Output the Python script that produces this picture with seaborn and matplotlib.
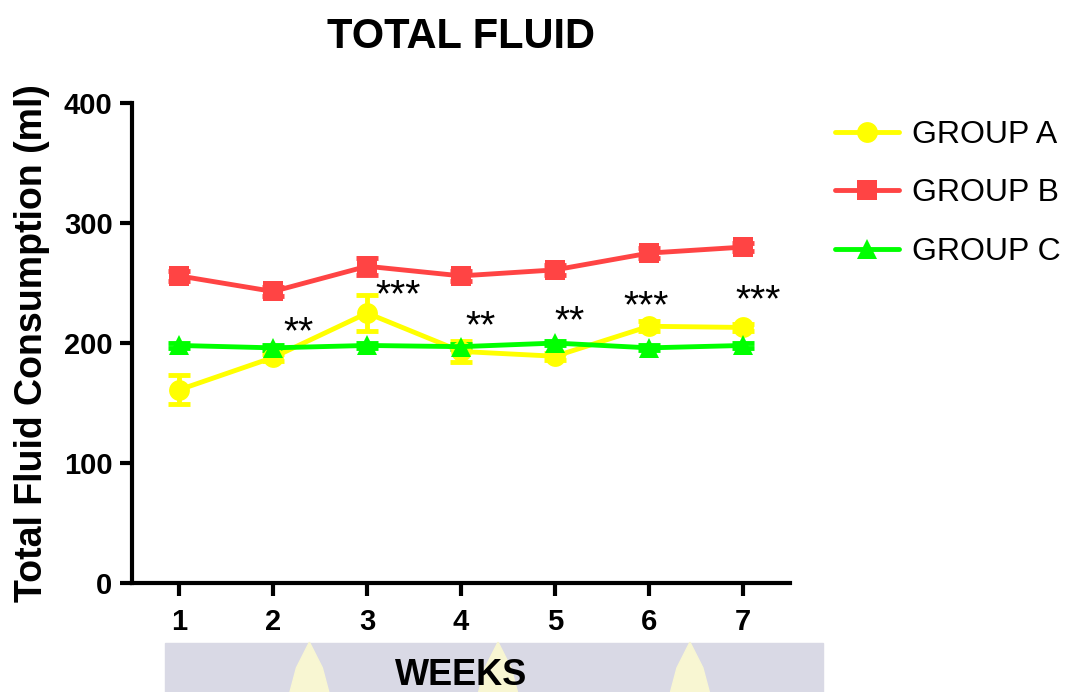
import seaborn as sns
import matplotlib.pyplot as plt
import matplotlib.patches as mpatches
import pandas as pd

weeks = [1, 2, 3, 4, 5, 6, 7]
groups = ['GROUP A', 'GROUP B', 'GROUP C']
group_a = [161, 188, 225, 193, 189, 214, 213]
group_a_err = [12, 3, 15, 9, 3, 4, 3]
group_b = [256, 243, 264, 256, 261, 275, 280]
group_b_err = [4, 4, 7, 4, 4, 4, 3]
group_c = [198, 196, 198, 197, 200, 196, 198]
group_c_err = [2, 2, 2, 2, 2, 2, 2]
stars = ['', '**', '***', '**', '**', '***', '***']

sns.set_style('ticks')
plt.rcParams['font.family'] = ['Liberation Sans', 'DejaVu Sans']
for k in ['text.color', 'axes.labelcolor', 'xtick.color', 'ytick.color', 'axes.edgecolor']:
    plt.rcParams[k] = 'black'

df = pd.DataFrame({
    'week': weeks * 3,
    'ml': group_a + group_b + group_c,
    'err': group_a_err + group_b_err + group_c_err,
    'group': [g for g in groups for _ in weeks],
})

colors = {'GROUP A': '#FFFF00', 'GROUP B': '#FF4444', 'GROUP C': '#00FF00'}
markers = {'GROUP A': 'o', 'GROUP B': 's', 'GROUP C': '^'}

fig = plt.figure(figsize=(10.78, 6.92), dpi=100)
ax = fig.add_axes([0.1225, 0.1575, 0.6105, 0.6935])

# watermark band behind the x label
fig.patches.append(mpatches.Rectangle((0.153, 0.0), 0.61, 0.071, transform=fig.transFigure,
                                      color='#D9D9E5', zorder=-2))
for fx in [0.287, 0.462, 0.640]:
    fig.patches.append(mpatches.Polygon([(fx - 0.018, 0.0), (fx + 0.018, 0.0), (fx + 0.012, 0.035),
                                         (fx, 0.072), (fx - 0.012, 0.035)], closed=True,
                                        transform=fig.transFigure, color='#F8F6D2', zorder=-1))

for g in groups:
    d = df[df.group == g]
    ax.errorbar(d.week, d.ml, yerr=d.err, fmt='none', ecolor=colors[g], elinewidth=3.5,
                capsize=8, capthick=3.5, zorder=2)

sns.lineplot(data=df, x='week', y='ml', hue='group', style='group', palette=colors,
             markers=markers, dashes=False, linewidth=3.5, markersize=15, markeredgewidth=0,
             ax=ax, zorder=3)

# significance marks above group A
offsets = [0, 20, 14, 20, 28, 16, 22]
dxs = [0, 0.27, 0.33, 0.21, 0.15, -0.03, 0.16]
for w, a, s, dx, dy in zip(weeks, group_a, stars, dxs, offsets):
    if s:
        ax.text(w + dx, a + dy, s, ha='center', va='center', fontsize=28, color='black')

ax.set_xlim(0.5, 7.5)
ax.set_ylim(0, 400)
ax.set_xticks(weeks)
ax.set_yticks([0, 100, 200, 300, 400])
sns.despine(ax=ax)
for sp in ['left', 'bottom']:
    ax.spines[sp].set_linewidth(3)
ax.tick_params(axis='both', length=9, width=3, labelsize=21)
ax.tick_params(axis='x', pad=9)
ax.tick_params(axis='y', pad=5)
for lab in ax.get_xticklabels() + ax.get_yticklabels():
    lab.set_fontweight('bold')

ax.set_title('TOTAL FLUID', fontsize=30, fontweight='bold', pad=40)
ax.set_ylabel('Total Fluid Consumption (ml)', fontsize=27, fontweight='bold', labelpad=10)
ax.set_xlabel('WEEKS', fontsize=26, fontweight='bold', labelpad=16)

leg = ax.legend(loc='upper left', bbox_to_anchor=(0.775, 0.827), bbox_transform=fig.transFigure,
                frameon=False, borderpad=0, borderaxespad=0, handlelength=2.0,
                handletextpad=0.4, labelspacing=0.9, fontsize=23)

fig.savefig('out.png', dpi=100)
